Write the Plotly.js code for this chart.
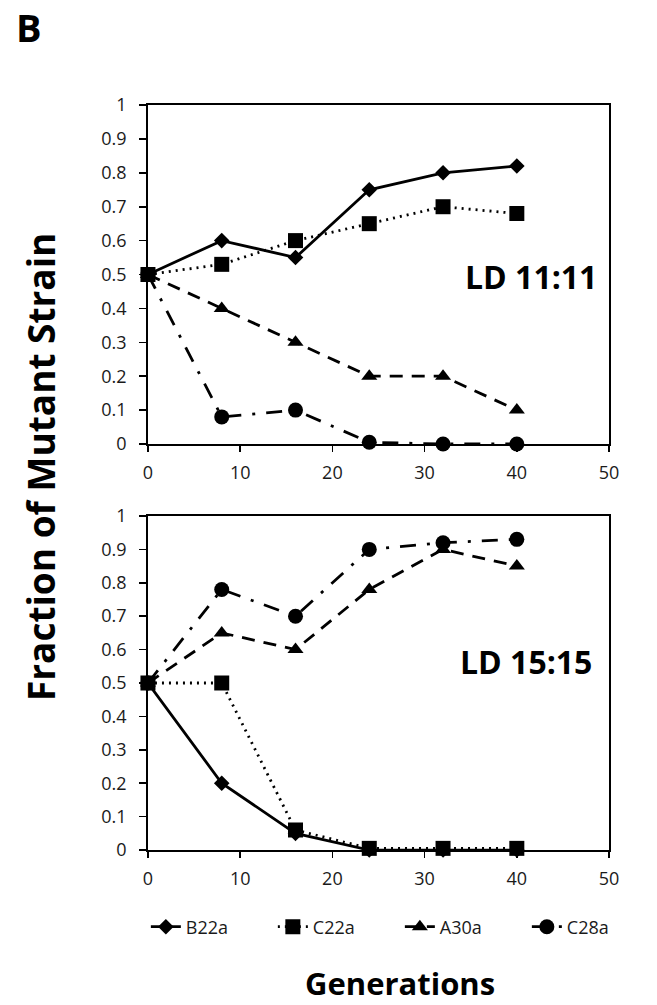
<!DOCTYPE html>
<html>
<head>
<meta charset="utf-8">
<script src="https://cdn.plot.ly/plotly-3.0.1.min.js"></script>
<style>html,body{margin:0;padding:0;background:#fff;}#chart{width:657px;height:1005px;}</style>
</head>
<body>
<div id="chart"></div>
<script>
// Data
const generations = [0, 8, 16, 24, 32, 40];
const seriesNames = ["B22a", "C22a", "A30a", "C28a"];
// LD 11:11 (top panel)
const ld11_B22a = [0.5, 0.6, 0.55, 0.75, 0.8, 0.82];
const ld11_C22a = [0.5, 0.53, 0.6, 0.65, 0.7, 0.68];
const ld11_A30a = [0.5, 0.4, 0.3, 0.2, 0.2, 0.1];
const ld11_C28a = [0.5, 0.08, 0.1, 0.005, 0, 0];
// LD 15:15 (bottom panel)
const ld15_B22a = [0.5, 0.2, 0.05, 0, 0, 0];
const ld15_C22a = [0.5, 0.5, 0.06, 0.005, 0.005, 0.005];
const ld15_A30a = [0.5, 0.65, 0.6, 0.78, 0.9, 0.85];
const ld15_C28a = [0.5, 0.78, 0.7, 0.9, 0.92, 0.93];
const xTicks = [0, 10, 20, 30, 40, 50];
const yTicks = [0, 0.1, 0.2, 0.3, 0.4, 0.5, 0.6, 0.7, 0.8, 0.9, 1];
const panelLabels = ["LD 11:11", "LD 15:15"];

const styles = {
  B22a: {dash: "solid", symbol: "diamond", size: 12},
  C22a: {dash: "2px,5px", symbol: "square", size: 15},
  A30a: {dash: "13px,9px", symbol: "triangle-up", size: 14},
  C28a: {dash: "16px,11px,3px,11px", symbol: "circle", size: 15}
};

function mk(name, y, xa, ya, show) {
  const s = styles[name];
  return {
    x: generations, y: y, name: name, xaxis: xa, yaxis: ya, showlegend: show,
    type: "scatter", mode: "lines+markers", cliponaxis: false,
    line: {color: "#000", width: 2.8, dash: s.dash},
    marker: {color: "#000", symbol: s.symbol, size: s.size}
  };
}

const traces = [
  mk("B22a", ld11_B22a, "x", "y", true),
  mk("C22a", ld11_C22a, "x", "y", true),
  mk("A30a", ld11_A30a, "x", "y", true),
  mk("C28a", ld11_C28a, "x", "y", true),
  mk("B22a", ld15_B22a, "x2", "y2", false),
  mk("C22a", ld15_C22a, "x2", "y2", false),
  mk("A30a", ld15_A30a, "x2", "y2", false),
  mk("C28a", ld15_C28a, "x2", "y2", false)
];

const FONT = "Open Sans, sans-serif";
const tickFont = {family: FONT, size: 18, color: "#1a1a1a"};
function xax(anchor) {
  return {domain: [0.2252, 0.927], range: [0, 50], tickvals: xTicks, ticks: "outside", ticklen: 6, tickwidth: 1.6,
    tickcolor: "#000", showline: true, linecolor: "#000", linewidth: 1.8, mirror: true, showgrid: false,
    zeroline: false, tickfont: tickFont, ticklabelstandoff: 6, anchor: anchor, fixedrange: true};
}
function yax(domain, anchor) {
  return {domain: domain, range: [0, 1], tickvals: yTicks, ticktext: yTicks.map(String), ticks: "outside", ticklen: 7,
    tickwidth: 1.6, tickcolor: "#000", showline: true, linecolor: "#000", linewidth: 1.8, mirror: true, showgrid: false,
    zeroline: false, tickfont: tickFont, ticklabelstandoff: 9, anchor: anchor, fixedrange: true};
}

const layout = {
  width: 657, height: 1005,
  margin: {l: 0, r: 0, t: 0, b: 0},
  paper_bgcolor: "#fff", plot_bgcolor: "#fff",
  xaxis: xax("y"), yaxis: yax([0.5582, 0.8955], "x"),
  xaxis2: xax("y2"), yaxis2: yax([0.1542, 0.4866], "x2"),
  showlegend: true,
  legend: {orientation: "h", x: 0.222, y: 1 - 927 / 1005, xanchor: "left", yanchor: "middle",
    font: {family: FONT, size: 18, color: "#1a1a1a"}, entrywidth: 82, entrywidthmode: "pixels", tracegroupgap: 0},
  annotations: [
    {text: "<b>B</b>", xref: "paper", yref: "paper", x: 0.022, y: 1 - 27 / 1005, xanchor: "left", yanchor: "middle",
      showarrow: false, font: {family: FONT, size: 38, color: "#000"}},
    {text: "<b>" + panelLabels[0] + "</b>", xref: "x", yref: "y", x: 41.5, y: 0.493, xanchor: "center", yanchor: "middle",
      showarrow: false, font: {family: FONT, size: 32, color: "#000"}},
    {text: "<b>" + panelLabels[1] + "</b>", xref: "x2", yref: "y2", x: 41.0, y: 0.563, xanchor: "center", yanchor: "middle",
      showarrow: false, font: {family: FONT, size: 32, color: "#000"}},
    {text: "<b>Fraction of Mutant Strain</b>", xref: "paper", yref: "paper", x: 41 / 657, y: 1 - 467 / 1005, textangle: -90,
      xanchor: "center", yanchor: "middle",
      showarrow: false, font: {family: FONT, size: 37, color: "#000"}},
    {text: "<b>Generations</b>", xref: "paper", yref: "paper", x: 400 / 657, y: 1 - 983 / 1005, xanchor: "center", yanchor: "middle",
      showarrow: false, font: {family: FONT, size: 31, color: "#000"}}
  ]
};

Plotly.newPlot("chart", traces, layout, {displayModeBar: false, staticPlot: true});
</script>
</body>
</html>
